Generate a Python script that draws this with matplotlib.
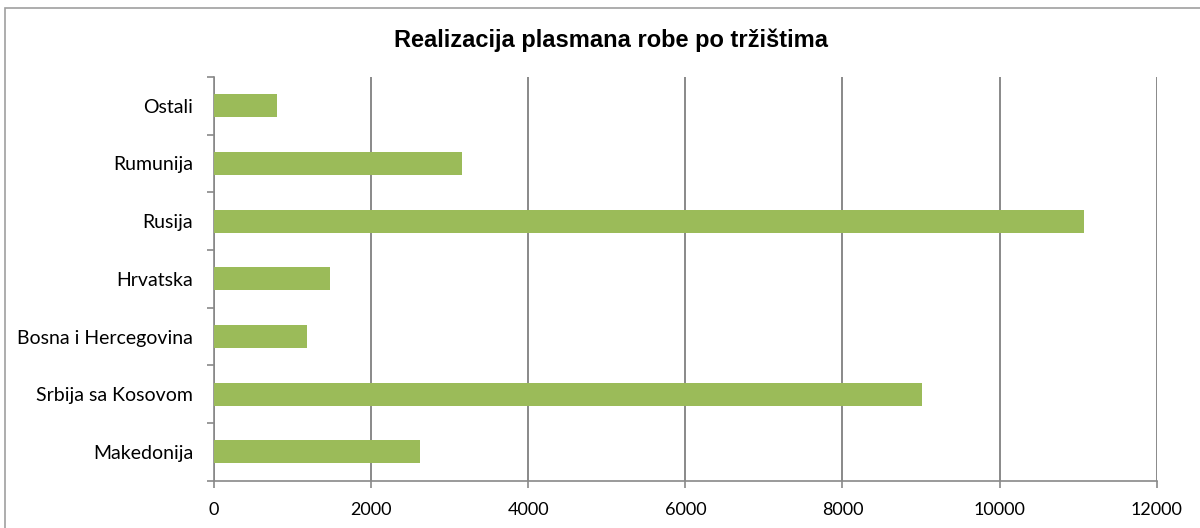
import numpy as np
import matplotlib.pyplot as plt
from matplotlib.patches import Rectangle

# data (bottom to top)
trzista = ["Makedonija", "Srbija sa Kosovom", "Bosna i Hercegovina",
           "Hrvatska", "Rusija", "Rumunija", "Ostali"]
vrijednosti = [2625, 9010, 1180, 1475, 11075, 3155, 800]
x_ticks = [0, 2000, 4000, 6000, 8000, 10000, 12000]

grey = "#898989"

fig = plt.figure(figsize=(12, 5.28), dpi=100)
ax = fig.add_axes([0.1783, 0.0896, 0.9639 - 0.1783, 0.8542 - 0.0896])

# chart border (only left/top visible in the crop)
fig.patches.append(Rectangle((5 / 1200, -0.05), 1.2, (528 - 8) / 528 + 0.05,
                             transform=fig.transFigure, fill=False,
                             edgecolor="#a0a0a0", linewidth=1.2, zorder=0))

y = np.arange(len(trzista))
ax.barh(y, vrijednosti, height=0.4, color="#9BBB59", zorder=3)

ax.set_xlim(0, 12000)
ax.set_ylim(-0.5, len(trzista) - 0.5)
ax.set_xticks(x_ticks)
ax.set_xticklabels([str(t) for t in x_ticks], fontsize=13, family="Lato")
ax.set_yticks(y)
ax.set_yticklabels(trzista, fontsize=14, family="Lato")
ax.set_yticks(np.arange(-0.5, len(trzista)), minor=True)

ax.xaxis.grid(True, color=grey, linewidth=1.4, zorder=0)
ax.set_axisbelow(True)

for s in ["top", "right"]:
    ax.spines[s].set_visible(False)
for s in ["left", "bottom"]:
    ax.spines[s].set_color(grey)
    ax.spines[s].set_linewidth(1.2)

ax.tick_params(axis="y", which="major", length=0, pad=15)
ax.tick_params(axis="y", which="minor", length=5, color=grey, width=1.2)
ax.tick_params(axis="x", which="major", length=5, color=grey, width=1.2, pad=10)

fig.text(0.509, 1 - 40 / 528, "Realizacija plasmana robe po tržištima",
         ha="center", va="center", fontsize=17, fontweight="bold",
         family="Liberation Sans")

fig.savefig("out.png", dpi=100, facecolor="white")
